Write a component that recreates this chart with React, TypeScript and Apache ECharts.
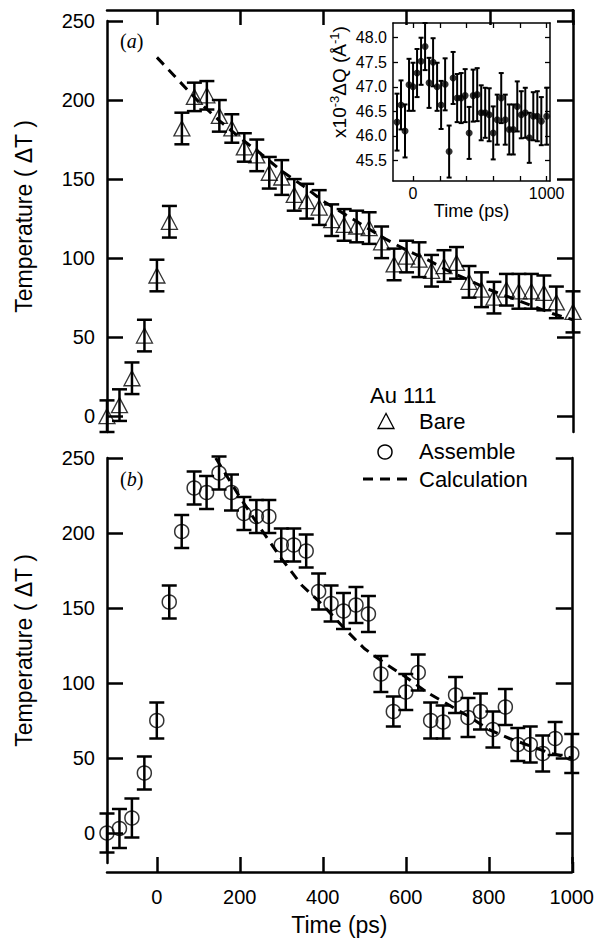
import React, { useEffect, useRef } from "react";
import * as echarts from "echarts";

// ---------- data ----------
const timePs = [-120, -90, -60, -30, 0, 30, 60, 90, 120, 150, 180, 210, 240, 270, 300, 330, 360, 390, 420, 450, 480, 510, 540, 570, 600, 630, 660, 690, 720, 750, 780, 810, 840, 870, 900, 930, 960, 1000];

const bareTemp = [0, 7, 24, 51, 89, 123, 182, 202, 203, 190, 182, 170, 165, 154, 151, 140, 136, 132, 124, 121, 120, 119, 110, 96, 101, 99, 92, 95, 97, 85, 80, 75, 80, 79, 79, 78, 72, 66];
const bareErr = [10, 10, 10, 10, 10, 10, 10, 9, 9, 10, 9, 9, 10, 10, 11, 10, 11, 11, 10, 10, 10, 10, 10, 10, 10, 11, 10, 10, 10, 10, 11, 10, 10, 11, 11, 11, 10, 13];

const assembleTemp = [0, 3, 10, 40, 75, 154, 201, 230, 227, 240, 227, 213, 211, 211, 192, 192, 188, 161, 153, 148, 152, 146, 106, 81, 94, 107, 75, 74, 92, 77, 81, 69, 84, 59, 59, 53, 63, 53];
const assembleErr = [13, 13, 13, 11, 12, 11, 11, 11, 11, 11, 12, 11, 11, 11, 11, 11, 11, 12, 12, 12, 12, 12, 12, 10, 12, 12, 12, 11, 12, 13, 12, 12, 12, 11, 12, 12, 11, 13];

const calcBareTime = [0, 50, 100, 150, 200, 250, 300, 350, 400, 450, 500, 550, 600, 650, 700, 750, 800, 850, 900, 950, 1000];
const calcBareTemp = [227, 213, 199, 187, 176, 166, 155, 146, 136, 128, 120, 112, 105, 99, 92, 86, 80, 75, 70, 65, 61];

const calcAssembleTime = [142, 200, 250, 300, 350, 400, 450, 500, 550, 600, 650, 700, 750, 800, 850, 900, 950, 1000];
const calcAssembleTemp = [250, 224, 203, 183, 165, 152, 137, 123, 113, 104, 94, 86, 78, 69, 63, 58, 53, 50];

const insetShift = [46.28, 46.63, 46.10, 47.04, 47.00, 47.28, 47.52, 47.82, 47.08, 47.50, 47.00, 46.63, 47.05, 45.68, 47.18, 46.77, 46.77, 46.82, 46.06, 46.82, 46.84, 46.47, 46.47, 46.43, 46.06, 46.33, 46.77, 46.33, 46.13, 46.13, 46.60, 46.43, 46.47, 45.96, 46.40, 46.40, 46.30, 46.40];
const insetErr = [0.58, 0.5, 0.54, 0.53, 0.49, 0.49, 0.48, 0.48, 0.51, 0.49, 0.49, 0.49, 0.53, 0.53, 0.53, 0.49, 0.51, 0.54, 0.53, 0.53, 0.54, 0.56, 0.51, 0.54, 0.54, 0.51, 0.51, 0.51, 0.51, 0.51, 0.51, 0.48, 0.51, 0.51, 0.49, 0.51, 0.49, 0.58];

const tempTicks = [0, 50, 100, 150, 200, 250];
const timeTicks = [0, 200, 400, 600, 800, 1000];
const insetTimeLabels = [0, 1000];
const insetShiftTicks = [45.5, 46.0, 46.5, 47.0, 47.5, 48.0];

// ---------- styles ----------
const FONT = "'Liberation Sans', Arial, Helvetica, sans-serif";
const SERIF = "'Liberation Serif', 'Times New Roman', serif";
const BLACK = "#000";

function makeErrorBar(capHalf: number, lineWidth: number) {
  return function (_params: any, api: any) {
    const t = api.value(0);
    const lo = api.value(1);
    const hi = api.value(2);
    const a = api.coord([t, lo]);
    const b = api.coord([t, hi]);
    const style = { stroke: BLACK, lineWidth, fill: "none" };
    return {
      type: "group",
      children: [
        { type: "line", shape: { x1: a[0], y1: a[1], x2: b[0], y2: b[1] }, style },
        { type: "line", shape: { x1: a[0] - capHalf, y1: a[1], x2: a[0] + capHalf, y2: a[1] }, style },
        { type: "line", shape: { x1: b[0] - capHalf, y1: b[1], x2: b[0] + capHalf, y2: b[1] }, style },
      ],
    };
  };
}

const plain = (v: number) => String(v);
const mainLine = { show: true, onZero: false, lineStyle: { color: BLACK, width: 2.5 } };
const insetLine = { show: true, onZero: false, lineStyle: { color: BLACK, width: 1.5 } };
const mainTick = (vals: number[], len: number) => ({
  show: true,
  inside: true,
  length: len,
  customValues: vals,
  lineStyle: { color: BLACK, width: 2.5 },
});
const insetTick = (vals: number[]) => ({
  show: true,
  inside: true,
  length: 5,
  customValues: vals,
  lineStyle: { color: BLACK, width: 1.3 },
});
const noLabel = { show: false };
const noSplit = { show: false };

export default function App() {
  const ref = useRef<HTMLDivElement>(null);

  useEffect(() => {
    if (!ref.current) return;
    const chart = echarts.init(ref.current, undefined, { renderer: "svg" });

    const option: any = {
      animation: false,
      backgroundColor: "#fff",
      textStyle: { fontFamily: FONT, color: BLACK },
      grid: [
        { left: 107, top: 21, width: 466, height: 411 },
        { left: 107, top: 458, width: 466, height: 405 },
        { left: 393, top: 23, width: 157, height: 158 },
      ],
      xAxis: [
        {
          gridIndex: 0, type: "value", min: -120, max: 1000, position: "top", offset: 11,
          axisLine: mainLine, axisTick: mainTick(timeTicks, 15), axisLabel: noLabel, splitLine: noSplit,
        },
        {
          gridIndex: 1, type: "value", min: -120, max: 1000, position: "bottom", offset: 9,
          axisLine: mainLine, axisTick: mainTick(timeTicks, 15),
          axisLabel: { customValues: timeTicks, formatter: plain, margin: 15, fontSize: 20, color: BLACK, fontFamily: FONT },
          splitLine: noSplit,
          name: "Time (ps)", nameLocation: "middle", nameGap: 41,
          nameTextStyle: { fontSize: 23, color: BLACK, fontFamily: FONT },
        },
        {
          gridIndex: 2, type: "value", min: -150, max: 1025, position: "bottom",
          axisLine: insetLine, axisTick: insetTick(timeTicks),
          axisLabel: { customValues: insetTimeLabels, formatter: plain, margin: 4, fontSize: 16, color: BLACK, fontFamily: FONT },
          splitLine: noSplit,
          name: "Time (ps)", nameLocation: "middle", nameGap: 18,
          nameTextStyle: { fontSize: 18, color: BLACK, fontFamily: FONT },
        },
        {
          gridIndex: 2, type: "value", min: -150, max: 1025, position: "top",
          axisLine: insetLine, axisTick: insetTick(timeTicks), axisLabel: noLabel, splitLine: noSplit,
        },
      ],
      yAxis: [
        {
          gridIndex: 0, type: "value", min: -10, max: 250, position: "left",
          axisLine: mainLine, axisTick: mainTick(tempTicks, 16),
          axisLabel: { customValues: tempTicks, formatter: plain, margin: 12, fontSize: 20, color: BLACK, fontFamily: FONT },
          splitLine: noSplit,
          name: "Temperature ( ΔT )", nameLocation: "middle", nameGap: 72,
          nameTextStyle: { fontSize: 23, color: BLACK, fontFamily: FONT, padding: [0, 0, 0, 20] },
        },
        {
          gridIndex: 0, type: "value", min: -10, max: 250, position: "right",
          axisLine: mainLine, axisTick: mainTick(tempTicks, 16), axisLabel: noLabel, splitLine: noSplit,
        },
        {
          gridIndex: 1, type: "value", min: -20, max: 250, position: "left",
          axisLine: mainLine, axisTick: mainTick(tempTicks, 16),
          axisLabel: { customValues: tempTicks, formatter: plain, margin: 12, fontSize: 20, color: BLACK, fontFamily: FONT },
          splitLine: noSplit,
          name: "Temperature ( ΔT )", nameLocation: "middle", nameGap: 72,
          nameTextStyle: { fontSize: 23, color: BLACK, fontFamily: FONT, padding: [0, 0, 0, 20] },
        },
        {
          gridIndex: 1, type: "value", min: -20, max: 250, position: "right",
          axisLine: mainLine, axisTick: mainTick(tempTicks, 16), axisLabel: noLabel, splitLine: noSplit,
        },
        {
          gridIndex: 2, type: "value", min: 45.08, max: 48.3, position: "left",
          axisLine: insetLine, axisTick: insetTick(insetShiftTicks),
          axisLabel: {
            customValues: insetShiftTicks, margin: 6, fontSize: 16, color: BLACK, fontFamily: FONT,
            formatter: (v: number) => v.toFixed(1),
          },
          splitLine: noSplit,
          name: "x10{sup|-3}ΔQ (Å{sup|-1})", nameLocation: "middle", nameGap: 38,
          nameTextStyle: {
            fontSize: 19, color: BLACK, fontFamily: FONT, lineHeight: 24, padding: [0, 0, 0, 40],
            rich: {
              sup: { fontSize: 13, color: BLACK, fontFamily: FONT, verticalAlign: "top", lineHeight: 24 },
            },
          },
        },
        {
          gridIndex: 2, type: "value", min: 45.08, max: 48.3, position: "right",
          axisLine: insetLine, axisTick: insetTick(insetShiftTicks), axisLabel: noLabel, splitLine: noSplit,
        },
      ],
      series: [
        {
          name: "Bare error", type: "custom", xAxisIndex: 0, yAxisIndex: 0, clip: false, z: 2,
          renderItem: makeErrorBar(7.5, 2.5), encode: { x: 0, y: [1, 2] },
          data: timePs.map((t, i) => [t, bareTemp[i] - bareErr[i], bareTemp[i] + bareErr[i]]),
        },
        {
          name: "Bare", type: "scatter", xAxisIndex: 0, yAxisIndex: 0, clip: false, z: 3,
          symbol: "triangle", symbolSize: [16, 15],
          itemStyle: { color: "rgba(0,0,0,0)", borderColor: BLACK, borderWidth: 1.3 },
          data: timePs.map((t, i) => [t, bareTemp[i]]),
        },
        {
          name: "Calculation", type: "line", xAxisIndex: 0, yAxisIndex: 0, z: 4,
          showSymbol: false, symbol: "none",
          lineStyle: { color: BLACK, width: 3, type: [10, 7] },
          data: calcBareTime.map((t, i) => [t, calcBareTemp[i]]),
        },
        {
          name: "Assemble error", type: "custom", xAxisIndex: 1, yAxisIndex: 2, clip: false, z: 2,
          renderItem: makeErrorBar(7.5, 2.5), encode: { x: 0, y: [1, 2] },
          data: timePs.map((t, i) => [t, assembleTemp[i] - assembleErr[i], assembleTemp[i] + assembleErr[i]]),
        },
        {
          name: "Assemble", type: "scatter", xAxisIndex: 1, yAxisIndex: 2, clip: false, z: 3,
          symbol: "circle", symbolSize: 14,
          itemStyle: { color: "rgba(0,0,0,0)", borderColor: BLACK, borderWidth: 1.5 },
          data: timePs.map((t, i) => [t, assembleTemp[i]]),
        },
        {
          name: "Calculation (assemble)", type: "line", xAxisIndex: 1, yAxisIndex: 2, z: 4,
          showSymbol: false, symbol: "none",
          lineStyle: { color: BLACK, width: 3, type: [10, 7] },
          data: calcAssembleTime.map((t, i) => [t, calcAssembleTemp[i]]),
        },
        {
          name: "Shift error", type: "custom", xAxisIndex: 2, yAxisIndex: 4, clip: false, z: 5,
          renderItem: makeErrorBar(2.5, 2), encode: { x: 0, y: [1, 2] },
          data: timePs.map((t, i) => [t, insetShift[i] - insetErr[i], insetShift[i] + insetErr[i]]),
        },
        {
          name: "Shift", type: "scatter", xAxisIndex: 2, yAxisIndex: 4, clip: false, z: 6,
          symbol: "circle", symbolSize: 7,
          itemStyle: { color: BLACK },
          data: timePs.map((t, i) => [t, insetShift[i]]),
        },
      ],
      graphic: [
        // panel labels
        {
          type: "text", x: 120, y: 41,
          style: {
            text: "{p|(}{i|a}{p|)}", verticalAlign: "middle",
            rich: {
              p: { fontFamily: SERIF, fontSize: 20, fill: BLACK },
              i: { fontFamily: SERIF, fontSize: 20, fontStyle: "italic", fill: BLACK },
            },
          },
        },
        {
          type: "text", x: 120, y: 479,
          style: {
            text: "{p|(}{i|b}{p|)}", verticalAlign: "middle",
            rich: {
              p: { fontFamily: SERIF, fontSize: 20, fill: BLACK },
              i: { fontFamily: SERIF, fontSize: 20, fontStyle: "italic", fill: BLACK },
            },
          },
        },
        // legend
        { type: "text", x: 370, y: 395, style: { text: "Au 111", fontSize: 22, fontFamily: FONT, fill: BLACK, verticalAlign: "middle" } },
        {
          type: "polygon",
          shape: { points: [[386, 413.5], [378, 428.5], [394, 428.5]] },
          style: { fill: "none", stroke: BLACK, lineWidth: 1.3 },
        },
        { type: "text", x: 419, y: 421, style: { text: "Bare", fontSize: 22, fontFamily: FONT, fill: BLACK, verticalAlign: "middle" } },
        { type: "circle", shape: { cx: 385, cy: 452, r: 7 }, style: { fill: "none", stroke: BLACK, lineWidth: 1.5 } },
        { type: "text", x: 419, y: 451, style: { text: "Assemble", fontSize: 22, fontFamily: FONT, fill: BLACK, verticalAlign: "middle" } },
        {
          type: "line", shape: { x1: 363, y1: 479, x2: 409, y2: 479 },
          style: { stroke: BLACK, lineWidth: 3, lineDash: [10, 7] },
        },
        { type: "text", x: 419, y: 479, style: { text: "Calculation", fontSize: 22, fontFamily: FONT, fill: BLACK, verticalAlign: "middle" } },
        // frame corner joins
        { type: "line", shape: { x1: 573, y1: 9, x2: 573, y2: 22 }, style: { stroke: BLACK, lineWidth: 2.5 } },
        { type: "line", shape: { x1: 573, y1: 862, x2: 573, y2: 873 }, style: { stroke: BLACK, lineWidth: 2.5 } },
      ],
    };

    chart.setOption(option);
    return () => {
      chart.dispose();
    };
  }, []);

  return (
    <div
      ref={ref}
      style={{ position: "fixed", left: 0, top: 0, width: 597, height: 940, background: "#fff" }}
    />
  );
}
